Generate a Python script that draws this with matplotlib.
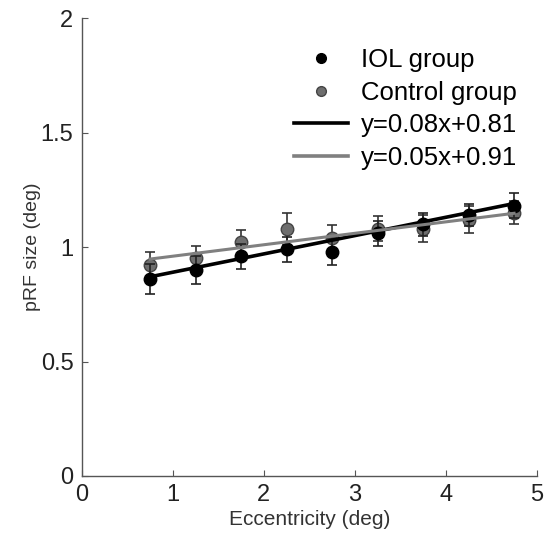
import numpy as np
import matplotlib
matplotlib.use("Agg")
import matplotlib.pyplot as plt
from matplotlib.lines import Line2D

plt.rcParams['font.family'] = ['Liberation Sans', 'DejaVu Sans']

# === Data ===
ecc = [0.75, 1.25, 1.75, 2.25, 2.75, 3.25, 3.75, 4.25, 4.75]
iol_size = [0.86, 0.90, 0.96, 0.99, 0.98, 1.06, 1.10, 1.14, 1.18]
iol_err = [0.065, 0.06, 0.055, 0.055, 0.06, 0.055, 0.05, 0.05, 0.055]
ctrl_size = [0.92, 0.95, 1.02, 1.08, 1.04, 1.08, 1.08, 1.12, 1.15]
ctrl_err = [0.06, 0.055, 0.055, 0.07, 0.055, 0.055, 0.06, 0.06, 0.05]
iol_fit = (0.08, 0.81)
ctrl_fit = (0.05, 0.91)

iol_color = "black"
ctrl_color = "#6e6e6e"
ctrl_line = "#808080"

fig = plt.figure(figsize=(5.45, 5.49), dpi=100)
ax = fig.add_axes([0.150, 0.133, 0.835, 0.834])

x_fit = np.array([ecc[0], ecc[-1]])

ax.errorbar(ecc, ctrl_size, yerr=ctrl_err, fmt="o", color=ctrl_color,
            ecolor="#333333", markeredgecolor="#444444", markersize=9,
            capsize=3.5, elinewidth=1.2, capthick=1.2, zorder=2)
ax.errorbar(ecc, iol_size, yerr=iol_err, fmt="o", color=iol_color,
            ecolor="#222222", markersize=9, capsize=3.5, elinewidth=1.2,
            capthick=1.2, zorder=3)
ax.plot(x_fit, iol_fit[0] * x_fit + iol_fit[1], color=iol_color, lw=2.6, zorder=4)
ax.plot(x_fit, ctrl_fit[0] * x_fit + ctrl_fit[1], color=ctrl_line, lw=2.2, zorder=5)

ax.set_xlim(0, 5)
ax.set_ylim(0, 2)
ax.set_xticks([0, 1, 2, 3, 4, 5])
ax.set_yticks([0, 0.5, 1, 1.5, 2])
ax.set_yticklabels(["0", "0.5", "1", "1.5", "2"])
ax.tick_params(direction="in", labelsize=17, length=4, colors="#555555",
               labelcolor="#222222", pad=6)
for s in ["top", "right"]:
    ax.spines[s].set_visible(False)
for s in ["left", "bottom"]:
    ax.spines[s].set_color("#555555")
    ax.spines[s].set_linewidth(1.0)

ax.set_xlabel("Eccentricity (deg)", fontsize=15, color="#333333", labelpad=3)
ax.set_ylabel("pRF size (deg)", fontsize=14, color="#333333", labelpad=0)

handles = [
    Line2D([], [], ls="none", marker="o", color=iol_color, markersize=7),
    Line2D([], [], ls="none", marker="o", color=ctrl_color,
           markeredgecolor="#444444", markersize=7),
    Line2D([], [], color=iol_color, lw=2.6),
    Line2D([], [], color=ctrl_line, lw=2.6),
]
labels = ["IOL group", "Control group",
          f"y={iol_fit[0]:.2f}x+{iol_fit[1]:.2f}",
          f"y={ctrl_fit[0]:.2f}x+{ctrl_fit[1]:.2f}"]
ax.legend(handles, labels, loc="upper left", frameon=False, fontsize=18.5,
          handlelength=2.1, handletextpad=0.5, labelspacing=0.33,
          borderpad=0.4, bbox_to_anchor=(0.416, 0.985))

fig.savefig("out.png", dpi=100)
